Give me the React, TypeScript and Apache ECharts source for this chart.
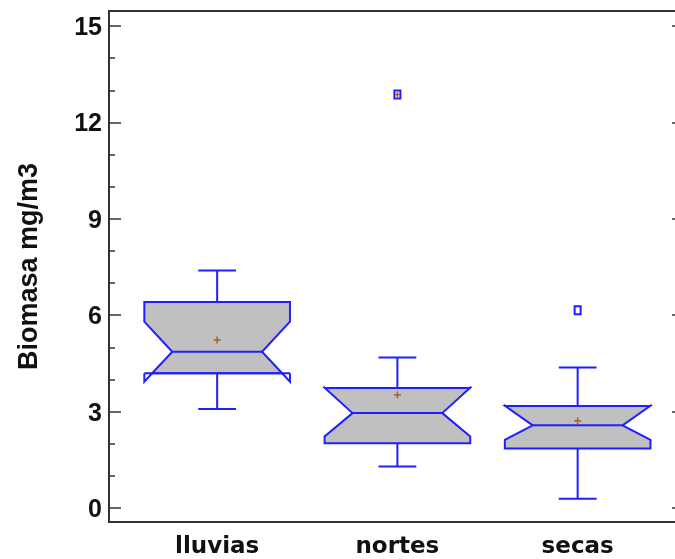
import React, { useEffect, useRef } from "react";
import * as echarts from "echarts";

const categories = ["lluvias", "nortes", "secas"];
const whiskerLow = [3.08, 1.29, 0.28];
const q1 = [4.19, 2.01, 1.85];
const median = [4.86, 2.95, 2.57];
const q3 = [6.41, 3.73, 3.17];
const whiskerHigh = [7.39, 4.68, 4.37];
const notchLow = [3.93, 2.22, 2.12];
const notchHigh = [5.8, 3.74, 3.18];
const means = [5.23, 3.52, 2.71];
const outlierCat = [1, 2];
const outlierValue = [12.87, 6.15];
const outlierFar = [true, false];

const majorTicks = [0, 3, 6, 9, 12, 15];
const minorTicks = [1, 2, 4, 5, 7, 8, 10, 11, 13, 14];

const Y_MIN = -0.44;
const Y_MAX = 15.47;
const X_MIN = -0.6;
const X_MAX = 2.59;

const BLUE = "#1f1fff";
const FILL = "#c0c0c0";
const BROWN = "#b0602a";
const AXIS = "#333333";

export default function App() {
  const ref = useRef<HTMLDivElement>(null);
  useEffect(() => {
    if (!ref.current) return;
    const chart = echarts.init(ref.current, undefined, { renderer: "svg" });

    const boxData = categories.map((_, i) => [
      i, whiskerLow[i], q1[i], median[i], q3[i], whiskerHigh[i], notchLow[i], notchHigh[i],
    ]);

    const renderBox = (params: any, api: any) => {
      const xi = api.value(0);
      const vWL = api.value(1), vQ1 = api.value(2), vMed = api.value(3), vQ3 = api.value(4);
      const vWH = api.value(5), vNL = api.value(6), vNH = api.value(7);
      const unit = api.size([1, 0])[0];
      const hw = unit * 0.404;
      const inset = unit * 0.155;
      const capHw = unit * 0.105;
      const cx = api.coord([xi, 0])[0];
      const y = (v: number) => api.coord([xi, v])[1];
      const xL = cx - hw, xR = cx + hw, iL = xL + inset, iR = xR - inset;
      const yQ1 = y(vQ1), yQ3 = y(vQ3), yMed = y(vMed), yNL = y(vNL), yNH = y(vNH);
      const upperIn = vNH <= vQ3;
      const lowerIn = vNL >= vQ1;
      const tU = upperIn ? 1 : (vQ3 - vMed) / (vNH - vMed);
      const tL = lowerIn ? 1 : (vMed - vQ1) / (vMed - vNL);
      const xcRU = iR + tU * (xR - iR), xcLU = iL - tU * (iL - xL);
      const xcRL = iR + tL * (xR - iR), xcLL = iL - tL * (iL - xL);

      const pts: number[][] = [];
      if (upperIn) { pts.push([xL, yQ3], [xR, yQ3], [xR, yNH]); } else { pts.push([xcLU, yQ3], [xcRU, yQ3]); }
      pts.push([iR, yMed]);
      if (lowerIn) { pts.push([xR, yNL], [xR, yQ1], [xL, yQ1], [xL, yNL]); } else { pts.push([xcRL, yQ1], [xcLL, yQ1]); }
      pts.push([iL, yMed]);
      if (upperIn) { pts.push([xL, yNH]); }

      const lineStyle = { stroke: BLUE, lineWidth: 2, fill: null };
      const children: any[] = [
        { type: "line", shape: { x1: cx, y1: y(vWH), x2: cx, y2: yQ3 }, style: lineStyle },
        { type: "line", shape: { x1: cx - capHw, y1: y(vWH), x2: cx + capHw, y2: y(vWH) }, style: lineStyle },
        { type: "line", shape: { x1: cx, y1: yQ1, x2: cx, y2: y(vWL) }, style: lineStyle },
        { type: "line", shape: { x1: cx - capHw, y1: y(vWL), x2: cx + capHw, y2: y(vWL) }, style: lineStyle },
        { type: "polygon", shape: { points: pts }, style: { fill: FILL, stroke: BLUE, lineWidth: 2 } },
        { type: "line", shape: { x1: iL, y1: yMed, x2: iR, y2: yMed }, style: lineStyle },
      ];
      if (!upperIn) {
        children.push(
          { type: "line", shape: { x1: xL, y1: yQ3, x2: xR, y2: yQ3 }, style: lineStyle },
          { type: "polyline", shape: { points: [[xcRU, yQ3], [xR, yNH], [xR, yQ3]] }, style: lineStyle },
          { type: "polyline", shape: { points: [[xcLU, yQ3], [xL, yNH], [xL, yQ3]] }, style: lineStyle },
        );
      }
      if (!lowerIn) {
        children.push(
          { type: "line", shape: { x1: xL, y1: yQ1, x2: xR, y2: yQ1 }, style: lineStyle },
          { type: "polyline", shape: { points: [[xcRL, yQ1], [xR, yNL], [xR, yQ1]] }, style: lineStyle },
          { type: "polyline", shape: { points: [[xcLL, yQ1], [xL, yNL], [xL, yQ1]] }, style: lineStyle },
        );
      }
      return { type: "group", children };
    };

    const plus = (cx: number, cy: number, r: number) => [
      { type: "line", shape: { x1: cx - r, y1: cy, x2: cx + r, y2: cy }, style: { stroke: BROWN, lineWidth: 1.6 } },
      { type: "line", shape: { x1: cx, y1: cy - r, x2: cx, y2: cy + r }, style: { stroke: BROWN, lineWidth: 1.6 } },
    ];

    const renderMean = (params: any, api: any) => {
      const p = api.coord([api.value(0), api.value(1)]);
      return { type: "group", children: plus(p[0], p[1], 3.5) };
    };

    const renderOutlier = (params: any, api: any) => {
      const p = api.coord([api.value(0), api.value(1)]);
      const far = api.value(2) === 1;
      const children: any[] = [
        { type: "rect", shape: { x: p[0] - 3, y: p[1] - 4, width: 6, height: 8 }, style: { fill: "#ffffff", stroke: BLUE, lineWidth: 2 } },
      ];
      if (far) children.push(...plus(p[0], p[1], 2.5));
      return { type: "group", children };
    };

    const yBase = {
      type: "value",
      min: Y_MIN,
      max: Y_MAX,
      splitLine: { show: false },
      axisLine: { show: false, onZero: false },
    };

    chart.setOption({
      animation: false,
      grid: {
        left: 109, right: 36, top: 11, bottom: 37,
        show: true, borderColor: AXIS, borderWidth: 2, backgroundColor: "transparent",
      },
      xAxis: [{
        type: "value",
        min: X_MIN,
        max: X_MAX,
        splitLine: { show: false },
        axisLine: { show: false, onZero: false },
        axisTick: { show: false },
        axisLabel: {
          customValues: [0, 1, 2],
          formatter: (v: number) => categories[Math.round(v)] ?? "",
          fontFamily: "DejaVu Sans",
          fontWeight: "bold",
          fontSize: 23,
          color: "#111111",
          margin: 11,
        },
      }],
      yAxis: [
        {
          ...yBase,
          position: "left",
          name: "Biomasa mg/m3",
          nameLocation: "middle",
          nameGap: 68,
          nameTextStyle: { fontFamily: "Liberation Sans", fontWeight: "bold", fontSize: 27, color: "#111111" },
          axisTick: { show: true, inside: true, length: 12, customValues: majorTicks, lineStyle: { color: AXIS, width: 1.5 } },
          axisLabel: { customValues: majorTicks, fontFamily: "Liberation Sans", fontWeight: "bold", fontSize: 25, color: "#111111", margin: 7 },
        },
        {
          ...yBase,
          position: "left",
          axisTick: { show: true, inside: true, length: 6, customValues: minorTicks, lineStyle: { color: AXIS, width: 1.5 } },
          axisLabel: { show: false },
        },
        {
          ...yBase,
          position: "right",
          axisTick: { show: true, inside: true, length: 12, customValues: majorTicks, lineStyle: { color: AXIS, width: 1.5 } },
          axisLabel: { show: false },
        },
        {
          ...yBase,
          position: "right",
          axisTick: { show: true, inside: true, length: 6, customValues: minorTicks, lineStyle: { color: AXIS, width: 1.5 } },
          axisLabel: { show: false },
        },
      ],
      series: [
        { type: "custom", renderItem: renderBox, data: boxData, clip: false, encode: { x: 0, y: [1, 5] } },
        { type: "custom", renderItem: renderMean, data: categories.map((_, i) => [i, means[i]]), clip: false, encode: { x: 0, y: 1 } },
        {
          type: "custom", renderItem: renderOutlier, clip: false, encode: { x: 0, y: 1 },
          data: outlierCat.map((c, i) => [c, outlierValue[i], outlierFar[i] ? 1 : 0]),
        },
      ],
    });
    return () => chart.dispose();
  }, []);
  return (
    <div style={{ position: "fixed", left: 0, top: 0, width: 675, height: 559, overflow: "hidden" }}>
      <div ref={ref} style={{ width: 720, height: 559 }} />
    </div>
  );
}
